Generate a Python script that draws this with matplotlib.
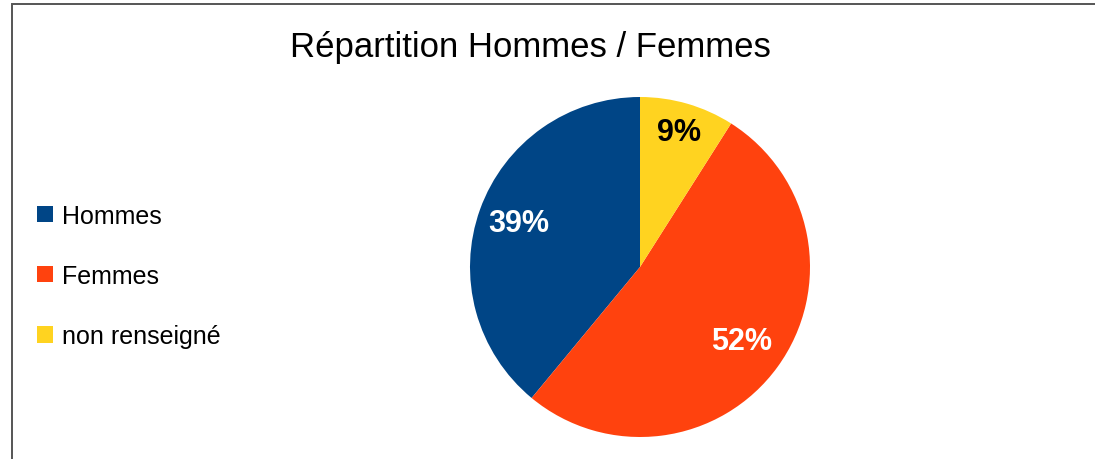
import matplotlib.pyplot as plt
from matplotlib.patches import Rectangle

plt.rcParams['font.family'] = ['Liberation Sans', 'DejaVu Sans']

# data
labels = ['Hommes', 'Femmes', 'non renseigné']
values = [39, 52, 9]
colors = ['#004586', '#ff420e', '#ffd320']
pct_colors = ['white', 'white', 'black']
pct_dist = [0.76, 0.74, 0.83]

W, H = 1095, 460
fig = plt.figure(figsize=(W / 100, H / 100), dpi=100)

# frame around the chart
fig.patches.append(Rectangle((12 / W, -0.1), 1.2, 1.1 - 4.5 / H, transform=fig.transFigure,
                             fill=False, edgecolor='#555555', linewidth=1.4, clip_on=False))

# pie centred at (640, 268) px with radius 170 px
cx, cy, r = 640, 268, 170
ax = fig.add_axes([(cx - r) / W, (H - cy - r) / H, 2 * r / W, 2 * r / H])
wedges, texts, autotexts = ax.pie(values, colors=colors, startangle=90, counterclock=True,
                                  autopct='%1.0f%%', pctdistance=1.0,
                                  wedgeprops=dict(linewidth=0),
                                  textprops=dict(fontsize=22, fontweight='bold'))
for t, c, d in zip(autotexts, pct_colors, pct_dist):
    x, y = t.get_position()
    t.set_position((x * d, y * d))
    t.set_color(c)
ax.set_xlim(-1, 1)
ax.set_ylim(-1, 1)
ax.set_aspect('equal')

fig.text(530 / W, 1 - 48 / H, 'Répartition Hommes / Femmes', ha='center', va='center', fontsize=25)

fig.legend(wedges, labels, loc='center left', bbox_to_anchor=(37 / W, 1 - 277 / H),
           frameon=False, fontsize=18, handlelength=0.62, handleheight=0.62,
           handletextpad=0.4, labelspacing=1.45, borderpad=0, borderaxespad=0)

fig.savefig('out.png', dpi=100, facecolor='white')
